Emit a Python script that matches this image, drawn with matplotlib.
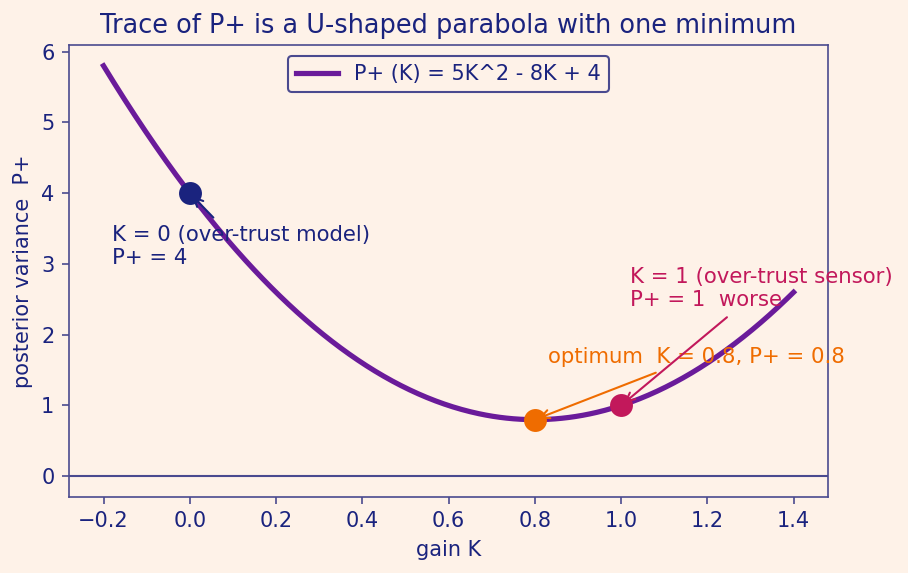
import numpy as np
import matplotlib.pyplot as plt

# data
coeffs = [5, -8, 4]          # P+(K) = 5K^2 - 8K + 4
k_range = [-0.2, 1.4]
pt_k = [0.0, 0.8, 1.0]
pt_p = [4.0, 0.8, 1.0]
pt_labels = ["K = 0 (over-trust model)\nP+ = 4",
             "optimum  K = 0.8, P+ = 0.8",
             "K = 1 (over-trust sensor)\nP+ = 1  worse"]
label_pos = [(-0.18, 3.0), (0.83, 1.6), (1.02, 2.4)]

bg = '#fef2e8'
ink = '#1a237e'
spine = '#4a4a8f'
pt_colors = ['#1a237e', '#ef6c00', '#c2185b']

plt.rcParams['font.family'] = 'DejaVu Sans'

K = np.linspace(k_range[0], k_range[1], 400)
P = np.polyval(coeffs, K)

fig = plt.figure(figsize=(908/150, 573/150), dpi=150, facecolor=bg)
ax = fig.add_subplot()
ax.set_facecolor(bg)

ax.plot(K, P, color='#6a1b9a', lw=2.5, label='P+ (K) = 5K^2 - 8K + 4', zorder=2)
ax.axhline(0, color=spine, lw=1)

for k, p, c, lab, xy in zip(pt_k, pt_p, pt_colors, pt_labels, label_pos):
    ax.plot(k, p, 'o', color=c, ms=10, zorder=3)
    ax.annotate(lab, xy=(k, p), xytext=xy, color=c, fontsize=10.2,
                arrowprops=dict(arrowstyle='->', color=c, lw=1))

ax.set_title('Trace of P+ is a U-shaped parabola with one minimum', color=ink, fontsize=12.3)
ax.set_xlabel('gain K', color=ink, fontsize=10)
ax.set_ylabel('posterior variance  P+', color=ink, fontsize=10)
ax.tick_params(colors=spine, labelcolor=ink, labelsize=10)
for s in ax.spines.values():
    s.set_color(spine)

leg = ax.legend(loc='upper center', fontsize=10, facecolor=bg, edgecolor=spine,
                framealpha=1)
for t in leg.get_texts():
    t.set_color(ink)

fig.subplots_adjust(left=0.076, right=0.912, top=0.921, bottom=0.133)
fig.savefig('out.png', dpi=150, facecolor=bg)
